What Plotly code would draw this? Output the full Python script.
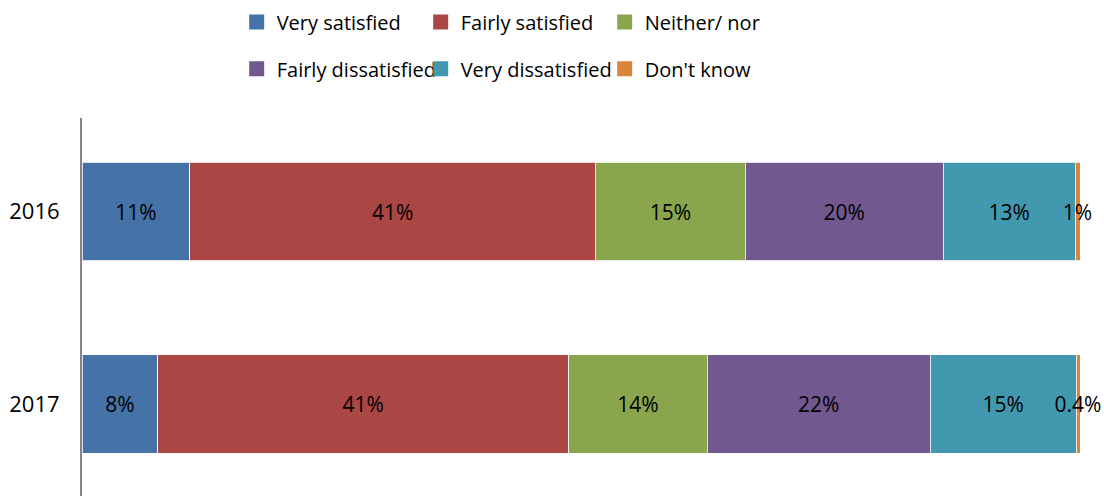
import plotly.graph_objects as go

years = ["2016", "2017"]
categories = ["Very satisfied", "Fairly satisfied", "Neither/ nor",
              "Fairly dissatisfied", "Very dissatisfied", "Don't know"]
colors = ["#4572A7", "#AA4643", "#89A54E", "#71588F", "#4198AF", "#DB843D"]

# share (%) per category, for 2016 and 2017
very_satisfied = [10.8, 7.6]
fairly_satisfied = [40.6, 41.1]
neither_nor = [15.0, 13.9]
fairly_dissatisfied = [19.8, 22.3]
very_dissatisfied = [13.2, 14.6]
dont_know = [0.5, 0.4]

# data labels as printed on the chart
labels_very_satisfied = ["11%", "8%"]
labels_fairly_satisfied = ["41%", "41%"]
labels_neither_nor = ["15%", "14%"]
labels_fairly_dissatisfied = ["20%", "22%"]
labels_very_dissatisfied = ["13%", "15%"]
labels_dont_know = ["1%", "0.4%"]

series = [very_satisfied, fairly_satisfied, neither_nor,
          fairly_dissatisfied, very_dissatisfied, dont_know]
labels = [labels_very_satisfied, labels_fairly_satisfied, labels_neither_nor,
          labels_fairly_dissatisfied, labels_very_dissatisfied, labels_dont_know]

FONT = "Open Sans"

fig = go.Figure()
for i, (name, vals, txt, col) in enumerate(zip(categories, series, labels, colors)):
    fig.add_trace(go.Bar(
        y=years, x=vals, name=name, orientation="h",
        marker=dict(color=col, line=dict(color="rgba(255,255,255,0.8)", width=1)),
        text=txt, textposition="inside", insidetextanchor="middle",
        textangle=0, textfont=dict(color="black", size=21, family=FONT),
        cliponaxis=False, showlegend=False,
        hoverinfo="skip",
    ))
# legend entries with larger square swatches (no data points drawn)
for i, (name, col) in enumerate(zip(categories, colors)):
    fig.add_trace(go.Scatter(
        x=[None], y=[None], mode="markers", name=name,
        marker=dict(symbol="square", size=15, color=col),
        legend="legend" if i < 3 else "legend2",
        hoverinfo="skip",
    ))

legend_common = dict(orientation="h", xanchor="left", yanchor="middle",
                     font=dict(size=20, family=FONT, color="black"),
                     entrywidth=139, entrywidthmode="pixels", itemsizing="trace",
                     bgcolor="rgba(0,0,0,0)", traceorder="normal")

fig.update_layout(
    width=1104, height=496,
    margin=dict(l=82, r=24, t=118, b=0, autoexpand=False),
    paper_bgcolor="white", plot_bgcolor="white",
    barmode="stack", barnorm="percent", bargap=0.49,
    uniformtext=dict(minsize=21, mode="show"),
    font=dict(family=FONT, size=20, color="black"),
    legend=dict(x=0.155, y=1.254, **legend_common),
    legend2=dict(x=0.155, y=1.130, **legend_common),
    xaxis=dict(range=[0, 100], showgrid=False, showticklabels=False,
               zeroline=False, showline=False, ticks="", automargin=False),
    yaxis=dict(type="category", range=[1.478, -0.486], showgrid=False, zeroline=False,
               showline=True, linecolor="#868686", linewidth=2,
               ticks="", ticklabelstandoff=16, automargin=False,
               tickfont=dict(size=22, family=FONT, color="black")),
)

fig.write_html("out.html", config={"displayModeBar": False},
               post_script="document.body.style.margin='0px';document.body.style.overflow='hidden';")
